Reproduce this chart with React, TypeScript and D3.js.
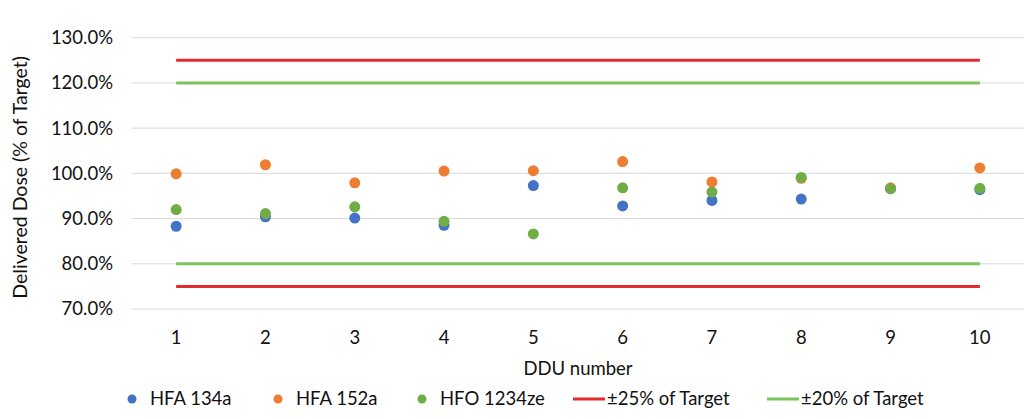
import React from 'react';
import * as d3 from 'd3';

const categories = ['1', '2', '3', '4', '5', '6', '7', '8', '9', '10'];
const hfa134a = [88.3, 90.4, 90.1, 88.5, 97.3, 92.8, 94.0, 94.3, 96.6, 96.4];
const hfa152a = [99.9, 101.9, 97.9, 100.5, 100.6, 102.6, 98.1, 98.9, 96.8, 101.2];
const hfo1234ze = [92.0, 91.1, 92.6, 89.4, 86.6, 96.8, 95.9, 99.1, 96.6, 96.7];
const limits25 = [125, 75];
const limits20 = [120, 80];
const yTicks = [70, 80, 90, 100, 110, 120, 130];

const W = 1024;
const H = 419;
const FONT = 'Lato, "Open Sans", sans-serif';

const scatterSeries = [
  { name: 'HFA 134a', values: hfa134a, color: '#4472C4' },
  { name: 'HFA 152a', values: hfa152a, color: '#ED7D31' },
  { name: 'HFO 1234ze', values: hfo1234ze, color: '#70AD47' },
];
const lineSeries = [
  { name: '±25% of Target', values: limits25, color: '#E42A2A' },
  { name: '±20% of Target', values: limits20, color: '#7DC35B' },
];

const App = () => {
  const x = d3.scaleBand().domain(categories).range([131.5, 1024.5]);
  const cx = (c: string) => (x(c) as number) + x.bandwidth() / 2;
  const y = d3.scaleLinear().domain([70, 130]).range([309, 37.7]);

  const legendX = [132, 278, 422];
  const lineLegendX = [573, 767];

  return (
    <svg width={W} height={H} style={{ position: 'absolute', left: 0, top: 0, background: '#fff' }}>
      {yTicks.map((t) => (
        <g key={t}>
          <line x1={131.5} x2={W} y1={y(t)} y2={y(t)} stroke="#d9d9d9" strokeWidth={1} />
          <text x={113} y={y(t)} dy="0.35em" textAnchor="end" fontFamily={FONT} fontSize={18.5} fill="#111">
            {d3.format('.1f')(t)}%
          </text>
        </g>
      ))}
      <text
        transform={`translate(20,${y(100) + 4}) rotate(-90)`}
        textAnchor="middle"
        dy="0.35em"
        fontFamily={FONT}
        fontSize={19.5}
        fill="#111"
      >
        Delivered Dose (% of Target)
      </text>
      {categories.map((c) => (
        <text key={c} x={cx(c)} y={338} dy="0.35em" textAnchor="middle" fontFamily={FONT} fontSize={18.5} fill="#111">
          {c}
        </text>
      ))}
      <text x={578} y={369} dy="0.35em" textAnchor="middle" fontFamily={FONT} fontSize={18.5} fill="#111">
        DDU number
      </text>
      {lineSeries.map((s) =>
        s.values.map((v, i) => (
          <line
            key={s.name + i}
            x1={cx(categories[0])}
            x2={cx(categories[categories.length - 1])}
            y1={y(v)}
            y2={y(v)}
            stroke={s.color}
            strokeWidth={3}
          />
        ))
      )}
      {scatterSeries.map((s) =>
        s.values.map((v, i) => (
          <circle key={s.name + i} cx={cx(categories[i])} cy={y(v)} r={5.5} fill={s.color} />
        ))
      )}
      {scatterSeries.map((s, i) => (
        <g key={s.name}>
          <circle cx={legendX[i]} cy={399} r={4.5} fill={s.color} />
          <text x={legendX[i] + 18} y={399} dy="0.35em" fontFamily={FONT} fontSize={18.5} fill="#111">
            {s.name}
          </text>
        </g>
      ))}
      {lineSeries.map((s, i) => (
        <g key={s.name}>
          <line x1={lineLegendX[i]} x2={lineLegendX[i] + 32} y1={399} y2={399} stroke={s.color} strokeWidth={3} />
          <text x={lineLegendX[i] + 34} y={399} dy="0.35em" fontFamily={FONT} fontSize={18.5} fill="#111">
            {s.name}
          </text>
        </g>
      ))}
    </svg>
  );
};

export default App;
